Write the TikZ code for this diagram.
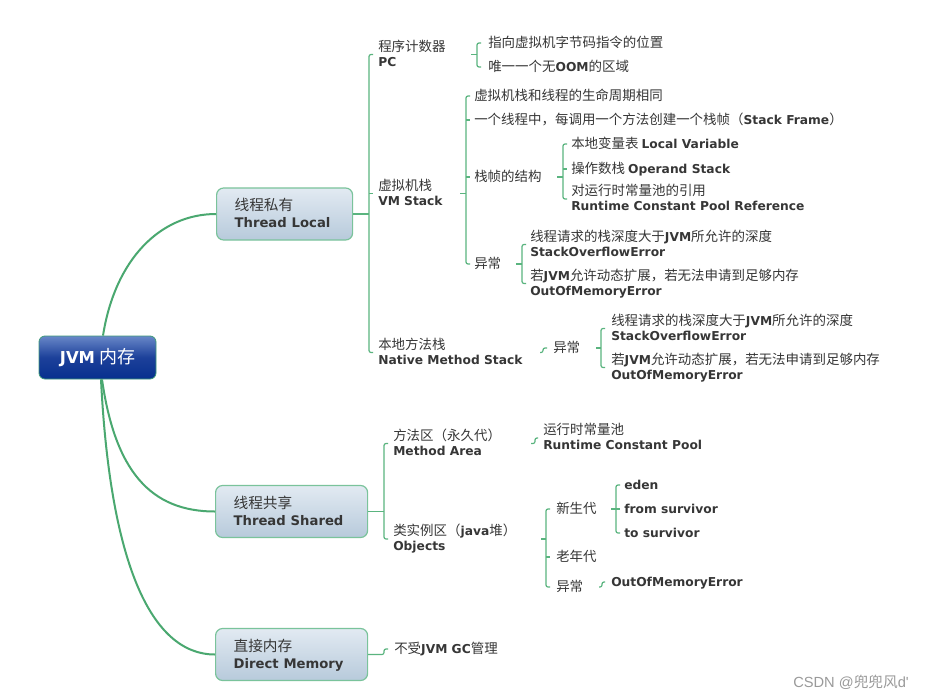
\documentclass[tikz,border=0pt]{standalone}
\usepackage{fontspec}
\usetikzlibrary{calc}
\newfontfamily\cjk{Noto Sans CJK SC}
\newfontfamily\enf{DejaVu Sans}
\newfontfamily\wmf{Liberation Sans}
\definecolor{txt}{HTML}{363636}
\definecolor{curvec}{HTML}{4AA870}
\definecolor{brc}{HTML}{5AB47F}
\definecolor{boxt}{HTML}{E2EAF2}
\definecolor{boxbot}{HTML}{B7CADB}
\definecolor{boxb}{HTML}{7AC39B}
\definecolor{roott}{HTML}{6887C8}
\definecolor{rootm}{HTML}{1C409A}
\definecolor{rootbot}{HTML}{07308E}
\definecolor{rootb}{HTML}{3F9A7A}
\definecolor{wmc}{HTML}{9A9A9A}
\newcommand\esz{9.2pt}
\newcommand\ebs{11.25pt}
\newcommand\EN[1]{{\enf\bfseries\fontsize{\esz}{\ebs}\selectfont #1}}
\newcommand\stA{\rule[-2.35pt]{0pt}{11.25pt}}
\newcommand\stB{\rule[-2.6pt]{0pt}{13pt}}
\tikzset{
  lbl/.style={anchor=west, inner sep=0pt, align=left, text=txt,
    font={\cjk\fontsize{10.1pt}{11.25pt}\selectfont}},
  box/.style={anchor=west, draw=boxb, line width=0.9pt, rounded corners=5.25pt,
    top color=boxt, bottom color=boxbot, minimum height=39pt,
    inner xsep=13.5pt, inner ysep=0pt, align=left, text=txt,
    font={\def\esz{9.9pt}\def\ebs{13pt}\cjk\fontsize{11pt}{13pt}\selectfont}},
  rootbox/.style={draw=rootb, line width=0.6pt, rounded corners=4.5pt,
    top color=roott, bottom color=rootbot, middle color=rootm,
    minimum width=87.75pt, minimum height=32.25pt, inner sep=0pt, text=white,
    font={\def\esz{12.3pt}\def\ebs{15pt}\cjk\fontsize{13.5pt}{15pt}\selectfont}},
  curve/.style={draw=curvec, line width=1.5pt},
  br/.style={draw=brc, line width=0.9pt, rounded corners=1.5pt}
}
\begin{document}
\begin{tikzpicture}[x=0.75pt,y=-0.75pt]
\fill[white] (0,0) rectangle (934,699);
\useasboundingbox (0,0) rectangle (934,699);

% root and main boxes
\node[rootbox] (root) at (97.5,357.5) {\EN{JVM} 内存};
\node[box, text width=75pt] (tl) at (216,214) {\stB 线程私有\\\stB\mbox{\EN{Thread Local}}};
\node[box, text width=87pt] (ts) at (215,511.5) {\stB 线程共享\\\stB\mbox{\EN{Thread Shared}}};
\node[box, text width=87pt] (dm) at (215,654.5) {\stB 直接内存\\\stB\mbox{\EN{Direct Memory}}};

\draw[curve] ($(root.north)+(5.5,0)$) .. controls +(12,-76) and +(-56,0) .. (tl.west);
\draw[curve] ($(root.south)+(4.5,0)$) .. controls +(13,91) and +(-65,0) .. (ts.west);
\draw[curve] ($(root.south)+(3.5,0)$) .. controls +(9,181) and +(-65,0) .. (dm.west);

% Thread Local subtree
\node[lbl] (pc) at (378,54.5) {\stA 程序计数器\\\stA\EN{PC}};
\node[lbl] (vms) at (378,193.5) {\stA 虚拟机栈\\\stA\EN{VM Stack}};
\node[lbl] (nms) at (378,352.5) {\stA 本地方法栈\\\stA\EN{Native Method Stack}};

\node[lbl] (pc1) at (488,43) {\stA 指向虚拟机字节码指令的位置};
\node[lbl] (pc2) at (488,67) {\stA 唯一一个无\EN{OOM}的区域};

\node[lbl] (v1) at (474,96) {\stA 虚拟机栈和线程的生命周期相同};
\node[lbl] (v2) at (474,120) {\stA 一个线程中，每调用一个方法创建一个栈帧（\EN{Stack Frame}）};
\node[lbl] (v3) at (474,177) {\stA 栈帧的结构};
\node[lbl] (v4) at (474,264) {\stA 异常};

\node[lbl] (f1) at (571,144) {\stA 本地变量表 \EN{Local Variable}};
\node[lbl] (f2) at (571,169) {\stA 操作数栈 \EN{Operand Stack}};
\node[lbl] (f3) at (571,199) {\stA 对运行时常量池的引用\\\stA\EN{Runtime Constant Pool Reference}};

\node[lbl] (e1) at (530,244.5) {\stA 线程请求的栈深度大于\EN{JVM}所允许的深度\\\stA\EN{StackOverflowError}};
\node[lbl] (e2) at (530,283.5) {\stA 若\EN{JVM}允许动态扩展，若无法申请到足够内存\\\stA\EN{OutOfMemoryError}};

\node[lbl] (n1) at (553,348) {\stA 异常};
\node[lbl] (ne1) at (611,328.5) {\stA 线程请求的栈深度大于\EN{JVM}所允许的深度\\\stA\EN{StackOverflowError}};
\node[lbl] (ne2) at (611,367.5) {\stA 若\EN{JVM}允许动态扩展，若无法申请到足够内存\\\stA\EN{OutOfMemoryError}};

% Thread Shared subtree
\node[lbl] (ma) at (393,443.5) {\stA 方法区（永久代）\\\stA\EN{Method Area}};
\node[lbl] (ob) at (393,539) {\stA 类实例区（\EN{java}堆）\\\stA\EN{Objects}};
\node[lbl] (rcp) at (543,438) {\stA 运行时常量池\\\stA\EN{Runtime Constant Pool}};
\node[lbl] (y1) at (556,509) {\stA 新生代};
\node[lbl] (y2) at (556,557) {\stA 老年代};
\node[lbl] (y3) at (556,587) {\stA 异常};
\node[lbl] (g1) at (624,485) {\stA\EN{eden}};
\node[lbl] (g2) at (624,509) {\stA\EN{from survivor}};
\node[lbl] (g3) at (624,533) {\stA\EN{to survivor}};
\node[lbl] (oom) at (611,582) {\stA\EN{OutOfMemoryError}};

% Direct Memory subtree
\node[lbl] (dmc) at (394,649) {\stA 不受\EN{JVM GC}管理};

% watermark
\node[anchor=west, inner sep=0pt, text=wmc, font=\wmf\fontsize{11pt}{13pt}\selectfont] (wm) at (793,682) {CSDN @{\cjk 兜兜风}d'};

% bracket x positions
\coordinate (xTL) at (369,0);
\coordinate (xPC) at (477,0);
\coordinate (xV) at (466,0);
\coordinate (xF) at (563,0);
\coordinate (xE) at (522,0);
\coordinate (xN) at (543,0);
\coordinate (xNE) at (601,0);
\coordinate (xTS) at (384,0);
\coordinate (xMA) at (535,0);
\coordinate (xOB) at (546,0);
\coordinate (xY) at (616,0);
\coordinate (xX) at (602,0);
\coordinate (xDM) at (384,0);

% Thread Local brackets
\draw[br] (tl.east) -- (xTL |- tl.east);
\draw[br] (xTL |- pc.west) ++(4,0) -- (xTL |- pc.west) -- (xTL |- nms.west) -- ++(4,0);
\draw[br] (xTL |- vms.west) -- ++(4,0);

\draw[br] (xPC |- pc.west) -- ++(-6,0);
\draw[br] (xPC |- pc1.west) ++(4,0) -- (xPC |- pc1.west) -- (xPC |- pc2.west) -- ++(4,0);

\draw[br] (xV |- vms.west) -- ++(-6,0);
\draw[br] (xV |- v1.west) ++(4,0) -- (xV |- v1.west) -- (xV |- v4.west) -- ++(4,0);
\draw[br] (xV |- v2.west) -- ++(4,0);
\draw[br] (xV |- v3.west) -- ++(4,0);

\draw[br] (xF |- v3.west) -- ++(-6,0);
\draw[br] (xF |- f1.west) ++(4,0) -- (xF |- f1.west) -- (xF |- f3.west) -- ++(4,0);
\draw[br] (xF |- f2.west) -- ++(4,0);

\draw[br] (xE |- v4.west) -- ++(-6,0);
\draw[br] (xE |- e1.west) ++(4,0) -- (xE |- e1.west) -- (xE |- e2.west) -- ++(4,0);

\draw[br] (xN |- nms.west) ++(-3,0) -- (xN |- nms.west) -- (xN |- n1.west) -- ++(4,0);

\draw[br] (xNE |- n1.west) -- ++(-5,0);
\draw[br] (xNE |- ne1.west) ++(4,0) -- (xNE |- ne1.west) -- (xNE |- ne2.west) -- ++(4,0);

% Thread Shared brackets
\draw[br] (ts.east) -- (xTS |- ts.east);
\draw[br] (xTS |- ma.west) ++(4,0) -- (xTS |- ma.west) -- (xTS |- ob.west) -- ++(4,0);

\draw[br] (xMA |- ma.west) ++(-4,0) -- (xMA |- ma.west) -- (xMA |- rcp.west) -- ++(3,0);

\draw[br] (xOB |- ob.west) -- ++(-5,0);
\draw[br] (xOB |- y1.west) ++(4,0) -- (xOB |- y1.west) -- (xOB |- y3.west) -- ++(4,0);
\draw[br] (xOB |- y2.west) -- ++(4,0);

\draw[br] (xY |- y1.west) -- ++(-5,0);
\draw[br] (xY |- g1.west) ++(4,0) -- (xY |- g1.west) -- (xY |- g3.west) -- ++(4,0);
\draw[br] (xY |- g2.west) -- ++(4,0);

\draw[br] (xX |- y3.west) ++(-3,0) -- (xX |- y3.west) -- (xX |- oom.west) -- ++(3,0);

% Direct Memory connector
\draw[br] (dm.east) -- (xDM |- dm.east) -- (xDM |- dmc.west) -- ++(4,0);
\end{tikzpicture}
\end{document}
